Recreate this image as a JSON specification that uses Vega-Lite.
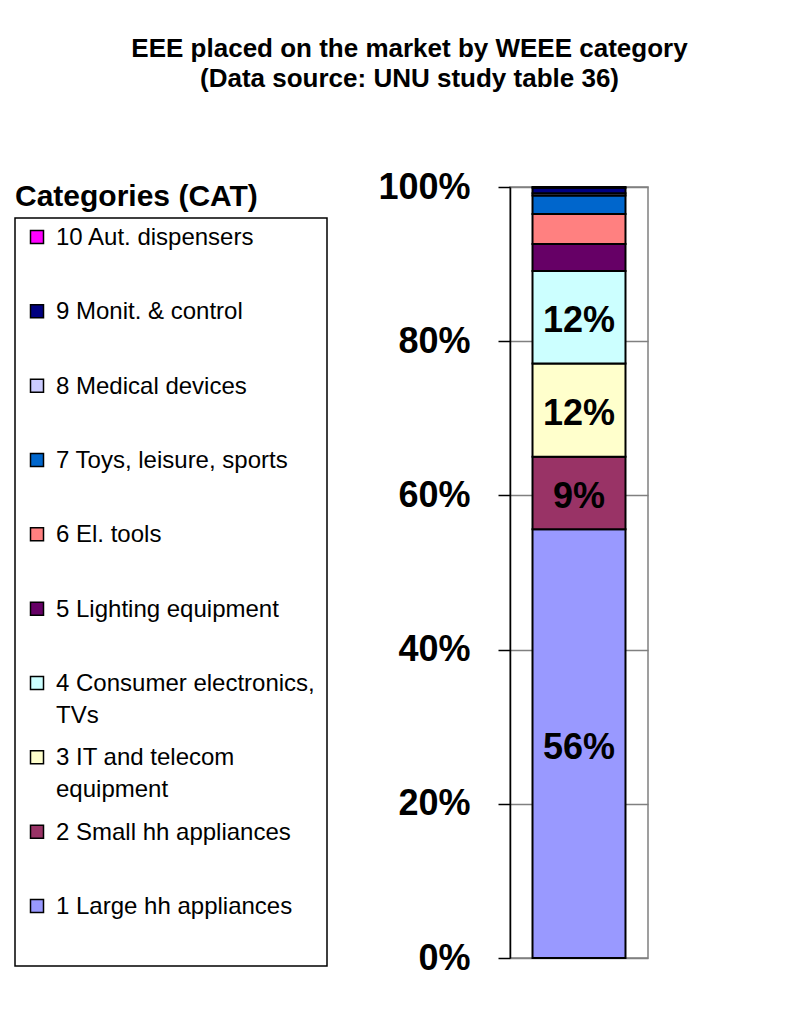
{
  "$schema": "https://vega.github.io/schema/vega-lite/v6.json",
  "background": "white",
  "padding": {"left": 14, "top": 36, "right": 0, "bottom": 0},
  "config": {
    "font": "Liberation Sans",
    "title": {"color": "black", "font": "Liberation Sans"}
  },
  "title": {
    "text": ["EEE placed on the market by WEEE category", "(Data source: UNU study table 36)"],
    "fontSize": 26,
    "fontWeight": "bold",
    "lineHeight": 30,
    "anchor": "middle",
    "dx": 78,
    "offset": 75
  },
  "data": {
    "values": [
      {"cat": 1, "group": "EEE", "category": "1 Large hh appliances", "label": "1 Large hh appliances", "share": 0.556},
      {"cat": 2, "group": "EEE", "category": "2 Small hh appliances", "label": "2 Small hh appliances", "share": 0.094},
      {"cat": 3, "group": "EEE", "category": "3 IT and telecom equipment", "label": "3 IT and telecom\nequipment", "share": 0.121},
      {"cat": 4, "group": "EEE", "category": "4 Consumer electronics, TVs", "label": "4 Consumer electronics,\nTVs", "share": 0.120},
      {"cat": 5, "group": "EEE", "category": "5 Lighting equipment", "label": "5 Lighting equipment", "share": 0.035},
      {"cat": 6, "group": "EEE", "category": "6 El. tools", "label": "6 El. tools", "share": 0.039},
      {"cat": 7, "group": "EEE", "category": "7 Toys, leisure, sports", "label": "7 Toys, leisure, sports", "share": 0.024},
      {"cat": 8, "group": "EEE", "category": "8 Medical devices", "label": "8 Medical devices", "share": 0.003},
      {"cat": 9, "group": "EEE", "category": "9 Monit. & control", "label": "9 Monit. & control", "share": 0.007},
      {"cat": 10, "group": "EEE", "category": "10 Aut. dispensers", "label": "10 Aut. dispensers", "share": 0.001}
    ]
  },
  "spacing": 49,
  "hconcat": [
    {
      "spacing": 0,
      "vconcat": [
        {
          "width": 312,
          "height": 14,
          "data": {"values": []},
          "mark": {"type": "point", "opacity": 0},
          "encoding": {},
          "view": {"stroke": null}
        },
        {
          "width": 312,
          "height": 748,
          "title": {"text": "Categories (CAT)", "anchor": "start", "fontSize": 30, "fontWeight": "bold", "offset": 6},
          "view": {"stroke": "black", "strokeWidth": 1.5},
          "layer": [
            {
              "mark": {"type": "square", "size": 169, "filled": true, "stroke": "black", "strokeWidth": 1.5, "opacity": 1},
              "encoding": {
                "x": {"value": 22},
                "y": {"field": "cat", "type": "quantitative", "scale": {"domain": [0.193, 10.256], "nice": false, "zero": false}, "axis": null},
                "color": {
                  "field": "category", "type": "nominal", "legend": null,
                  "scale": {
                    "domain": ["1 Large hh appliances", "2 Small hh appliances", "3 IT and telecom equipment", "4 Consumer electronics, TVs", "5 Lighting equipment", "6 El. tools", "7 Toys, leisure, sports", "8 Medical devices", "9 Monit. & control", "10 Aut. dispensers"],
                    "range": ["#9999FF", "#993366", "#FFFFCC", "#CCFFFF", "#660066", "#FF8080", "#0066CC", "#CCCCFF", "#000080", "#FF00FF"]
                  }
                }
              }
            },
            {
              "mark": {"type": "text", "align": "left", "baseline": "alphabetic", "dy": 8, "fontSize": 24, "lineBreak": "\n", "lineHeight": 32, "color": "black"},
              "encoding": {
                "x": {"value": 41},
                "y": {"field": "cat", "type": "quantitative", "scale": {"domain": [0.193, 10.256], "nice": false, "zero": false}, "axis": null},
                "text": {"field": "label"}
              }
            }
          ]
        }
      ]
    },
    {
      "spacing": 0,
      "vconcat": [
        {
          "width": 138,
          "height": 1,
          "data": {"values": []},
          "mark": {"type": "point", "opacity": 0},
          "encoding": {},
          "view": {"stroke": null}
        },
        {
          "width": 138,
          "height": 771,
          "view": {"stroke": "#808080", "strokeWidth": 1.5},
          "encoding": {
            "x": {"field": "group", "type": "nominal", "axis": null, "scale": {"paddingInner": 0, "paddingOuter": 0.242}},
            "order": {"field": "cat", "type": "quantitative", "sort": "ascending"}
          },
          "layer": [
            {
              "mark": {"type": "bar", "stroke": "black", "strokeWidth": 2},
              "encoding": {
                "y": {
                  "field": "share", "type": "quantitative", "stack": "zero",
                  "scale": {"domain": [0, 1], "nice": false},
                  "axis": {
                    "values": [0, 0.2, 0.4, 0.6, 0.8, 1],
                    "format": ".0%",
                    "title": null,
                    "labelFontSize": 36,
                    "labelFontWeight": "bold",
                    "labelColor": "black",
                    "labelPadding": 28,
                    "tickColor": "black",
                    "tickSize": 12,
                    "tickWidth": 1.5,
                    "domainColor": "black",
                    "domainWidth": 1.5,
                    "grid": true,
                    "gridColor": "#808080",
                    "gridWidth": 1.5
                  }
                },
                "color": {
                  "field": "category", "type": "nominal", "legend": null,
                  "scale": {
                    "domain": ["1 Large hh appliances", "2 Small hh appliances", "3 IT and telecom equipment", "4 Consumer electronics, TVs", "5 Lighting equipment", "6 El. tools", "7 Toys, leisure, sports", "8 Medical devices", "9 Monit. & control", "10 Aut. dispensers"],
                    "range": ["#9999FF", "#993366", "#FFFFCC", "#CCFFFF", "#660066", "#FF8080", "#0066CC", "#CCCCFF", "#000080", "#FF00FF"]
                  }
                }
              }
            },
            {
              "transform": [{"filter": "datum.share > 0.05"}],
              "mark": {"type": "text", "fontSize": 36, "fontWeight": "bold", "color": "black", "dy": 4},
              "encoding": {
                "y": {"field": "share", "type": "quantitative", "stack": "zero", "bandPosition": 0.5},
                "text": {"field": "share", "format": ".0%"}
              }
            }
          ]
        }
      ]
    }
  ]
}
